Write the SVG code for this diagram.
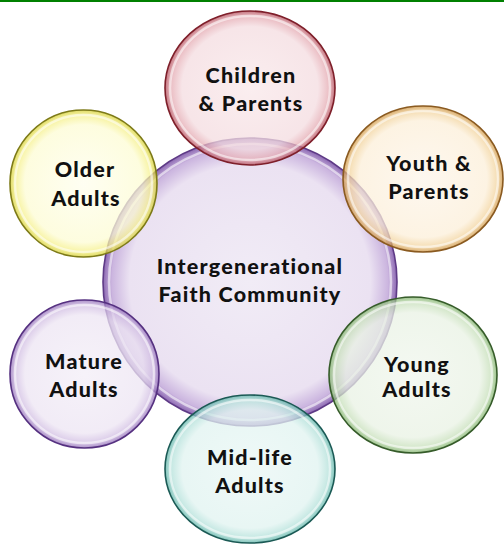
<svg xmlns="http://www.w3.org/2000/svg" width="504" height="544" viewBox="0 0 504 544">
<defs>
<radialGradient id="gPurple" cx="50%" cy="50%" r="50%"><stop offset="0" stop-color="#f1ecf6"/><stop offset="0.82" stop-color="#ebe2f2"/><stop offset="0.94" stop-color="#cbb5df"/><stop offset="1" stop-color="#8c68b2"/></radialGradient>
<radialGradient id="gRed" cx="50%" cy="50%" r="50%"><stop offset="0" stop-color="#f9e8ea"/><stop offset="0.8" stop-color="#f4dce0"/><stop offset="0.93" stop-color="#e4a9b1"/><stop offset="1" stop-color="#b04654"/></radialGradient>
<radialGradient id="gYellow" cx="50%" cy="50%" r="50%"><stop offset="0" stop-color="#fefeee"/><stop offset="0.8" stop-color="#fdfcd4"/><stop offset="0.93" stop-color="#f5f088"/><stop offset="1" stop-color="#d4ce30"/></radialGradient>
<radialGradient id="gOrange" cx="50%" cy="50%" r="50%"><stop offset="0" stop-color="#fdf5ea"/><stop offset="0.8" stop-color="#fcefd9"/><stop offset="0.93" stop-color="#f2d39c"/><stop offset="1" stop-color="#cc9240"/></radialGradient>
<radialGradient id="gGreen" cx="50%" cy="50%" r="50%"><stop offset="0" stop-color="#f0f6ed"/><stop offset="0.8" stop-color="#e9f2e4"/><stop offset="0.93" stop-color="#c6dfb9"/><stop offset="1" stop-color="#7aae64"/></radialGradient>
<radialGradient id="gTeal" cx="50%" cy="50%" r="50%"><stop offset="0" stop-color="#eaf7f5"/><stop offset="0.8" stop-color="#e0f3f0"/><stop offset="0.93" stop-color="#b1e0d9"/><stop offset="1" stop-color="#58b0a4"/></radialGradient>
<radialGradient id="gMature" cx="50%" cy="50%" r="50%"><stop offset="0" stop-color="#f3eef7"/><stop offset="0.8" stop-color="#ede5f3"/><stop offset="0.93" stop-color="#d0bce2"/><stop offset="1" stop-color="#8f6ab6"/></radialGradient>
</defs>
<style>
.t{font-family:"Lato","DejaVu Sans",sans-serif;font-weight:900;font-size:21.5px;letter-spacing:1.2px;fill:#111;text-anchor:middle}
.b{fill-opacity:0.75;stroke-width:1.6}
.hl{fill:none;stroke:#ffffff;stroke-opacity:0.55;stroke-width:2.5}
</style>
<rect x="0" y="0" width="504" height="544" fill="#ffffff"/>
<rect x="0" y="0" width="504" height="2" fill="#008000"/>
<g id="center">
<ellipse cx="250" cy="282" rx="147" ry="144" fill="url(#gPurple)" stroke="#5e3a86" stroke-width="1.6"/>
<ellipse class="hl" cx="250" cy="282" rx="141" ry="138"/>
<text class="t" x="250" y="274">Intergenerational</text>
<text class="t" x="250" y="302">Faith Community</text>
</g>
<g id="children-parents">
<ellipse class="b" cx="250" cy="88" rx="85" ry="77" fill="url(#gRed)" stroke="#7e1f2a"/>
<ellipse class="hl" cx="250" cy="88" rx="80" ry="72"/>
<text class="t" x="251" y="83">Children</text>
<text class="t" x="251" y="111">&amp; Parents</text>
</g>
<g id="youth-parents">
<ellipse class="b" cx="423" cy="179" rx="80" ry="73" fill="url(#gOrange)" stroke="#8a5a20"/>
<ellipse class="hl" cx="423" cy="179" rx="75" ry="68"/>
<text class="t" x="429" y="171">Youth &amp;</text>
<text class="t" x="429" y="199">Parents</text>
</g>
<g id="young-adults">
<ellipse class="b" cx="413" cy="375" rx="84" ry="78" fill="url(#gGreen)" stroke="#365c2a"/>
<ellipse class="hl" cx="413" cy="375" rx="79" ry="73"/>
<text class="t" x="417" y="372">Young</text>
<text class="t" x="417" y="397">Adults</text>
</g>
<g id="mid-life-adults">
<ellipse class="b" cx="250" cy="469" rx="85" ry="74" fill="url(#gTeal)" stroke="#1b5a55"/>
<ellipse class="hl" cx="250" cy="469" rx="80" ry="69"/>
<text class="t" x="250" y="465">Mid-life</text>
<text class="t" x="250" y="493">Adults</text>
</g>
<g id="mature-adults">
<ellipse class="b" cx="84.5" cy="374" rx="74.5" ry="74" fill="url(#gMature)" stroke="#553080"/>
<ellipse class="hl" cx="84.5" cy="374" rx="69.5" ry="69"/>
<text class="t" x="84" y="369">Mature</text>
<text class="t" x="84" y="397">Adults</text>
</g>
<g id="older-adults">
<ellipse class="b" cx="83.5" cy="183.5" rx="73.5" ry="73.5" fill="url(#gYellow)" stroke="#7d7a18"/>
<ellipse class="hl" cx="83.5" cy="183.5" rx="68.5" ry="68.5"/>
<text class="t" x="85" y="177">Older</text>
<text class="t" x="86" y="206">Adults</text>
</g>
<g id="connectors"></g>
</svg>
